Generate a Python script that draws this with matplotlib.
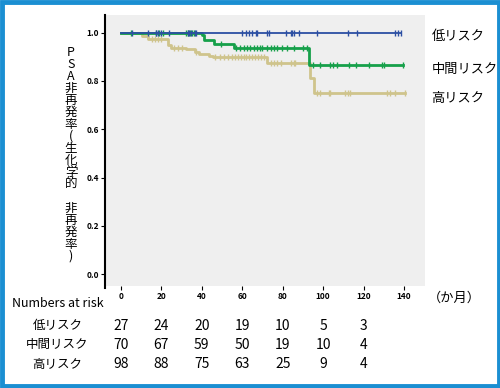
import matplotlib
matplotlib.use("Agg")
import matplotlib.pyplot as plt
from matplotlib.patches import Rectangle
import numpy as np

plt.rcParams['font.family'] = ['Noto Sans CJK JP', 'DejaVu Sans']

# --- データ ---
groups = ['低リスク', '中間リスク', '高リスク']
colors = ['#2c4fa3', '#16a04a', '#cfc48c']

low_t = [0, 138.5]
low_s = [1.0, 1.0]
low_cens = [5.3, 13.4, 17.5, 18.3, 19.9, 23.6, 33.1, 33.9, 34.7, 36.4, 37.2,
            60, 62, 63.4, 64.9, 66.7, 67.5, 72.4, 73.2, 81.4, 83.9, 84.7,
            85.5, 88, 96.9, 112.5, 116.6, 135.5, 137, 138.5]

mid_t = [0, 40, 41, 46, 56, 93, 139.5]
mid_s = [1.0, 0.99, 0.97, 0.953, 0.937, 0.866, 0.866]
mid_cens = [5, 17.5, 19, 21, 32, 33, 34, 35, 36, 49.5, 57, 59, 61, 62.5, 64,
            66, 67.5, 69, 70, 72, 74, 75.5, 77, 79.5, 82, 85.5, 90, 92, 95,
            98.5, 103.5, 105, 107, 113, 116.5, 122.5, 129, 130, 139.5]

high_t = [0, 10.2, 13.4, 23.3, 24.9, 32.3, 36.4, 38.8, 43.7, 45.4, 72.4,
          93.7, 95.5, 140.4]
high_s = [1.0, 0.986, 0.975, 0.947, 0.938, 0.931, 0.921, 0.913, 0.905, 0.897,
          0.873, 0.81, 0.75, 0.75]
high_cens = [15.5, 17, 18.5, 20, 26, 28, 30, 36.9, 46.5, 49, 51, 53, 55, 56.5,
             58, 59.5, 61, 62, 63.5, 65, 66.5, 68, 69.5, 71, 74, 75.7, 77.3,
             79, 83.9, 85.5, 86.3, 97, 98.6, 102.7, 103.5, 110.9, 112.5,
             113.4, 131.4, 133, 135.5, 140.4]

risk_times = [0, 20, 40, 60, 80, 100, 120]
risk_low = [27, 24, 20, 19, 10, 5, 3]
risk_mid = [70, 67, 59, 50, 19, 10, 4]
risk_high = [98, 88, 75, 63, 25, 9, 4]

x_ticks = [0, 20, 40, 60, 80, 100, 120, 140]
y_ticks = [0.0, 0.2, 0.4, 0.6, 0.8, 1.0]


def surv_at(t_list, s_list, t):
    """ステップ関数の値"""
    idx = np.searchsorted(t_list, t, side='right') - 1
    return s_list[max(idx, 0)]


fig = plt.figure(figsize=(5.0, 3.88), dpi=100)
ax = fig.add_axes([0.21, 0.263, 0.64, 0.698])
ax.set_facecolor('#efefef')

curves = [(low_t, low_s, low_cens, 1.3),
          (mid_t, mid_s, mid_cens, 2.0),
          (high_t, high_s, high_cens, 2.0)]
# 高リスク -> 中間 -> 低 の順に描く
for (t, s, cens, lw), col in reversed(list(zip(curves, colors))):
    ax.step(t, s, where='post', color=col, lw=lw)
    cy = [surv_at(t, s, c) for c in cens]
    ax.plot(cens, cy, ls='none', marker='|', ms=5, mew=1.0, color=col)

ax.set_xlim(-7.9, 150.4)
ax.set_ylim(-0.048, 1.072)
ax.set_xticks(x_ticks)
ax.set_yticks(y_ticks)
ax.set_xticklabels([str(v) for v in x_ticks], fontsize=6, fontweight='bold')
ax.set_yticklabels(['%.1f' % v for v in y_ticks], fontsize=6, fontweight='bold')
ax.tick_params(length=3, width=0.8, pad=1.5)
for sp in ['top', 'right', 'bottom']:
    ax.spines[sp].set_visible(False)
ax.spines['left'].set_linewidth(1.5)
ax.spines['left'].set_bounds(-0.058, 1.072)

# 縦書きのラベル
ylab = ['P', 'S', 'A', '非', '再', '発', '率', '(', '生', '化', '学', '的', ' ',
        '非', '再', '発', '率', ')']
fig.text(0.142, 0.603, '\n'.join(ylab), fontsize=9, ha='center',
         va='center', linespacing=0.9)

# 群ラベル
for name, yv in zip(groups, [0.985, 0.848, 0.728]):
    ax.text(1.02, yv, name, transform=ax.get_yaxis_transform(),
            fontsize=9.5, va='center', ha='left')

fig.text(0.855, 0.232, '（か月）', fontsize=9.5, va='center', ha='left')

# Numbers at risk
fig.text(0.024, 0.218, 'Numbers at risk', fontsize=9, va='center', ha='left')
row_y = [0.161, 0.112, 0.061]
for name, vals, yy in zip(groups, [risk_low, risk_mid, risk_high], row_y):
    fig.text(0.115, yy, name, fontsize=9, va='center', ha='center')
    for tv, n in zip(risk_times, vals):
        xf = fig.transFigure.inverted().transform(
            ax.transData.transform((tv, 0)))[0]
        fig.text(xf, yy, str(n), fontsize=10, va='center', ha='center')

# 青い枠
fig.patches.append(Rectangle((0.003, 0.004), 0.994, 0.992, transform=fig.transFigure,
                             fill=False, edgecolor='#1b8fd2', lw=3.5))

fig.savefig('out.png', dpi=100)
